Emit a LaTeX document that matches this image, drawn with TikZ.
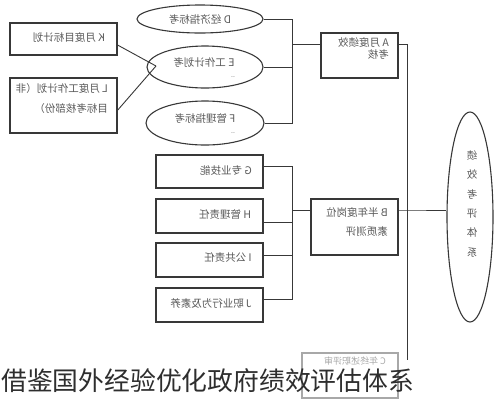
\documentclass[tikz,border=0pt]{standalone}
\usepackage{fontspec}
\usepackage{graphicx}
\newfontfamily\cjk{Noto Sans CJK SC}
\usetikzlibrary{shapes.geometric}

\definecolor{linegray}{HTML}{383838}
\definecolor{txtgray}{HTML}{5A5A5A}
\definecolor{fadegray}{HTML}{A8A8A8}
\definecolor{capgray}{HTML}{2E2E2E}

\tikzset{
  box/.style={draw=linegray, line width=1.1pt, rectangle, inner sep=0pt},
  oval/.style={draw=linegray, line width=1.1pt, ellipse, inner sep=0pt},
  lbl/.style={text=txtgray, font=\cjk\fontsize{10.5pt}{12.5pt}\selectfont, inner sep=0pt},
  wire/.style={draw=linegray, line width=0.9pt},
}

\begin{document}
\begin{tikzpicture}[x=1pt, y=-1pt]
        \useasboundingbox[fill=white] (0,0) rectangle (495,400);

        % ellipses on the top left
        \node[oval, minimum width=126pt, minimum height=28pt] (D) at (200,19) {};
        \node[oval, minimum width=116pt, minimum height=42pt] (E) at (205,67) {};
        \node[oval, minimum width=118pt, minimum height=44pt] (F) at (205,123) {};
        \node[lbl] (Dt) at (200,19) {\reflectbox{D 经济指标考}};
        \node[lbl] (Et) at (204,63) {\reflectbox{E 工作计划考}};
        \node[lbl, font=\cjk\fontsize{7pt}{7pt}\selectfont] (Edots) at (233,77) {..};
        \node[lbl] (Ft) at (205,118) {\reflectbox{F 管理指标考}};
        \node[lbl, font=\cjk\fontsize{7pt}{7pt}\selectfont] (Fdots) at (233,133) {..};

        % monthly boxes
        \node[box, minimum width=107pt, minimum height=32pt] (K) at (63.5,39) {};
        \node[box, line width=1.6pt, minimum width=107pt, minimum height=55pt] (L) at (63.5,105.5) {};
        \node[lbl] (Kt) at (69,37) {\reflectbox{K 月度目标计划}};
        \node[lbl, anchor=east] (Lt) at (108,100)
            {\reflectbox{\begin{tabular}{@{}l@{}}L 月度工作计划（非\\[7pt]目标考核部份）\end{tabular}}};
        \coordinate (Etip) at (156,66);
        \draw[wire] ([yshift=-6pt]K.east) -- (Etip);
        \draw[wire] ([yshift=-4.5pt]L.east) -- (Etip);

        % A
        \node[box, minimum width=77pt, minimum height=45pt] (A) at (359.5,55.5) {};
        \node[lbl, anchor=north east] (At) at (389,37)
            {\reflectbox{\begin{tabular}{@{}l@{}}A 月度绩效\\考核\end{tabular}}};
        \coordinate (busA) at (292,44);
        \draw[wire] (D.east) -| (busA);
        \draw[wire] (F.east) -| (busA);
        \draw[wire] (E.east) -- (E.east -| busA);
        \draw[wire] (busA) -- (A.west |- busA);

        % G to J
        \node[box, minimum width=107pt, minimum height=33pt] (G) at (209.5,171.5) {};
        \node[box, minimum width=107pt, minimum height=34pt] (H) at (209.5,216) {};
        \node[box, minimum width=107pt, minimum height=34pt] (I) at (209.5,260) {};
        \node[box, minimum width=107pt, minimum height=34pt] (J) at (209.5,305) {};
        \node[lbl] (Gt) at (226,170) {\reflectbox{G 专业技能}};
        \node[lbl] (Ht) at (225,214) {\reflectbox{H 管理责任}};
        \node[lbl] (It) at (228,258) {\reflectbox{I 公共责任}};
        \node[lbl] (Jt) at (211,303) {\reflectbox{J 职业行为及素养}};

        % B
        \node[box, minimum width=87pt, minimum height=56pt] (B) at (354.5,227) {};
        \node[lbl, anchor=east] (Bt) at (388,223.5)
            {\reflectbox{\begin{tabular}{@{}l@{}}B 半年度岗位\\[6pt]素质测评\end{tabular}}};
        \coordinate (busB) at (292,210);
        \draw[wire] ([yshift=5pt]G.east) -| (busB);
        \draw[wire] ([yshift=6pt]J.east) -| (busB);
        \draw[wire] ([yshift=-6pt]H.east) -- ([yshift=-6pt]H.east -| busB);
        \draw[wire] ([yshift=5pt]I.east) -- ([yshift=5pt]I.east -| busB);
        \draw[wire] (busB) -- (B.west |- busB);

        % C
        \node[box, draw=fadegray, minimum width=96pt, minimum height=45pt] (C) at (350,375.5) {};
        \node[lbl, text=fadegray, font=\cjk\fontsize{9pt}{9pt}\selectfont] (Ct) at (355,361) {\reflectbox{C 年终述职评审}};

        % system ellipse and trunk
        \node[oval, minimum width=46pt, minimum height=210pt] (sys) at (470,217) {};
        \node[lbl, font=\cjk\fontsize{10.5pt}{19.4pt}\selectfont] (syst) at (472,204)
            {\begin{tabular}{@{}c@{}}\reflectbox{绩}\\\reflectbox{效}\\\reflectbox{考}\\\reflectbox{评}\\\reflectbox{体}\\\reflectbox{系}\end{tabular}};
        \coordinate (trunkTop) at (407,44);
        \coordinate (trunkMid) at (407,210);
        \coordinate (trunkEnd) at (407,360);
        \draw[wire] (A.east |- trunkTop) -- (trunkTop) -- (trunkEnd);
        \draw[wire] (B.east |- trunkMid) -- (trunkMid) -- (sys.west |- trunkMid);

        % caption
        \node[anchor=west, text=capgray, font=\cjk\fontsize{25.8pt}{26pt}\selectfont, inner sep=0pt] (caption) at (1,381)
            {借鉴国外经验优化政府绩效评估体系};

\end{tikzpicture}
\end{document}
